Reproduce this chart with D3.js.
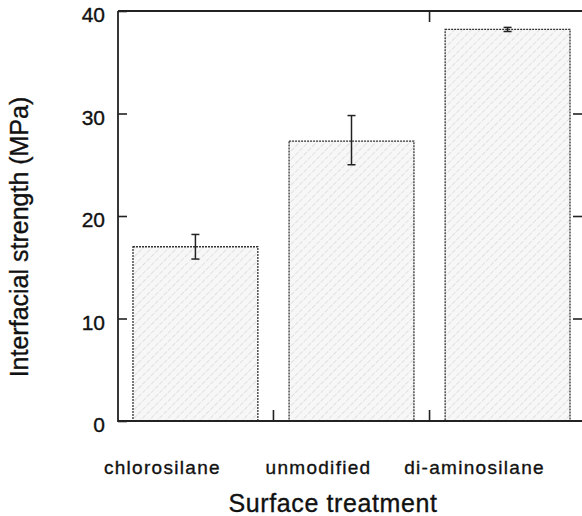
<!DOCTYPE html>
<html>
<head>
<meta charset="utf-8">
<script src="https://cdn.jsdelivr.net/npm/d3@7"></script>
<style>
  body { margin: 0; background: #fff; }
  text { font-family: "Liberation Sans", Arial, sans-serif; fill: #111; stroke: #111; stroke-width: 0.35px; }
</style>
</head>
<body>
<div id="chart"></div>
<script>
// data
const treatments = ["chlorosilane", "unmodified", "di-aminosilane"];
const strength = [17.0, 27.3, 38.2];
const errLow = [15.8, 25.0, 38.0];
const errHigh = [18.2, 29.8, 38.4];
const yTicks = [0, 10, 20, 30, 40];

const width = 582;
const height = 516;

const svg = d3.select("#chart")
    .append("svg")
    .attr("width", width)
    .attr("height", height);

// hatch pattern for the bars
const defs = svg.append("defs");
const pat = defs.append("pattern")
    .attr("id", "hatch")
    .attr("patternUnits", "userSpaceOnUse")
    .attr("width", 6)
    .attr("height", 6)
    .attr("patternTransform", "rotate(45)");
pat.append("rect")
    .attr("width", 6).attr("height", 6)
    .attr("fill", "#f7f7f7");
pat.append("line")
    .attr("x1", 0).attr("y1", 0)
    .attr("x2", 0).attr("y2", 6)
    .attr("stroke", "#cdcdcd")
    .attr("stroke-width", 1.1)
    .attr("stroke-dasharray", "3,1.5");

const m = { left: 118, right: 585, top: 11, bottom: 421 };

const x = d3.scaleBand()
    .domain(treatments)
    .range([m.left, m.right])
    .paddingInner(0.2)
    .paddingOuter(0.096);

const y = d3.scaleLinear()
    .domain([0, 40])
    .range([m.bottom, m.top]);

const rows = treatments.map((t, i) => ({
    name: t, value: strength[i], lo: errLow[i], hi: errHigh[i]
}));

// bars
svg.selectAll("rect.bar")
    .data(rows)
    .enter()
    .append("rect")
    .attr("class", "bar")
    .attr("x", d => x(d.name))
    .attr("y", d => y(d.value))
    .attr("width", x.bandwidth())
    .attr("height", d => y(0) - y(d.value))
    .attr("fill", "url(#hatch)")
    .attr("stroke", "#333")
    .attr("stroke-width", 1.3)
    .attr("stroke-dasharray", "2,1");

// error bars
const eb = svg.selectAll("g.err")
    .data(rows)
    .enter()
    .append("g")
    .attr("class", "err")
    .attr("stroke", "#222")
    .attr("stroke-width", 1.5);

eb.append("line")
    .attr("x1", d => x(d.name) + x.bandwidth() / 2)
    .attr("x2", d => x(d.name) + x.bandwidth() / 2)
    .attr("y1", d => y(d.lo))
    .attr("y2", d => y(d.hi));
eb.append("line")
    .attr("x1", d => x(d.name) + x.bandwidth() / 2 - 4)
    .attr("x2", d => x(d.name) + x.bandwidth() / 2 + 4)
    .attr("y1", d => y(d.lo))
    .attr("y2", d => y(d.lo));
eb.append("line")
    .attr("x1", d => x(d.name) + x.bandwidth() / 2 - 4)
    .attr("x2", d => x(d.name) + x.bandwidth() / 2 + 4)
    .attr("y1", d => y(d.hi))
    .attr("y2", d => y(d.hi));

// frame
svg.append("path")
    .attr("d", `M${m.left},${m.top} H${width} M${m.left},${m.top} V${m.bottom} H${width}`)
    .attr("fill", "none")
    .attr("stroke", "#222")
    .attr("stroke-width", 1.8);

// left axis ticks (inward)
svg.append("g")
    .attr("transform", `translate(${m.left},0)`)
    .call(d3.axisRight(y).tickValues(yTicks).tickSize(9).tickFormat(""))
    .call(g => g.select(".domain").remove())
    .call(g => g.selectAll("line").attr("stroke", "#222").attr("stroke-width", 1.6));

// right axis ticks (inward)
svg.append("g")
    .attr("transform", "translate(582,0)")
    .call(d3.axisLeft(y).tickValues([10, 20, 30]).tickSize(9).tickFormat(""))
    .call(g => g.select(".domain").remove())
    .call(g => g.selectAll("line").attr("stroke", "#222").attr("stroke-width", 1.6));

// y tick labels
svg.selectAll("text.ytick")
    .data(yTicks)
    .enter()
    .append("text")
    .attr("class", "ytick")
    .attr("x", 105)
    .attr("y", d => y(d) + 11)
    .attr("text-anchor", "end")
    .style("font-size", "21px")
    .text(d => d);

// ticks between bars, top and bottom
const between = [1, 2].map(i => x(treatments[i]) - x.step() * x.paddingInner() / 2);
svg.selectAll("line.bt")
    .data(between)
    .enter()
    .append("line")
    .attr("x1", d => d).attr("x2", d => d)
    .attr("y1", m.bottom).attr("y2", m.bottom - 11)
    .attr("stroke", "#222").attr("stroke-width", 1.6);
svg.selectAll("line.tt")
    .data(between.slice(1))
    .enter()
    .append("line")
    .attr("x1", d => d).attr("x2", d => d)
    .attr("y1", m.top).attr("y2", m.top + 11)
    .attr("stroke", "#222").attr("stroke-width", 1.6);

// category labels (sit a little left of the bar centres)
svg.selectAll("text.cat")
    .data(treatments)
    .enter()
    .append("text")
    .attr("class", "cat")
    .attr("x", d => x(d) + x.bandwidth() / 2 - 33)
    .attr("y", 474)
    .attr("text-anchor", "middle")
    .style("font-size", "19px")
    .style("letter-spacing", "1.3px")
    .text(d => d);

// axis titles
svg.append("text")
    .attr("x", 333)
    .attr("y", 512)
    .attr("text-anchor", "middle")
    .style("font-size", "25px")
    .style("letter-spacing", "0.6px")
    .text("Surface treatment");

svg.append("text")
    .attr("transform", "translate(28,237) rotate(-90)")
    .attr("text-anchor", "middle")
    .style("font-size", "25px")
    .text("Interfacial strength (MPa)");
</script>
</body>
</html>
